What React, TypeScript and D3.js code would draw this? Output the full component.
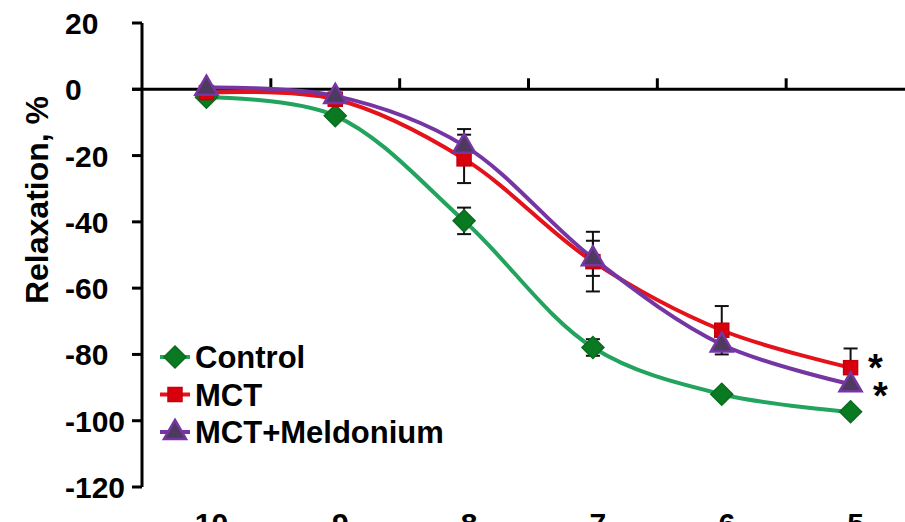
import React, { useEffect, useRef } from "react";
import * as d3 from "d3";

const categories = ["-10", "-9", "-8", "-7", "-6", "-5"];
const yTicks = [20, 0, -20, -40, -60, -80, -100, -120];

const controlValues = [-2.4, -8, -39.7, -77.9, -92, -97.3];
const controlErrors = [0, 0, 4, 2.5, 0, 0];
const mctValues = [-1, -3, -21, -52, -72.7, -84];
const mctErrors = [0, 0, 7.3, 9, 7.3, 5.8];
const meldValues = [0.5, -2, -17, -51, -77, -89];
const meldErrors = [0, 0, 5, 5.3, 0, 0];

const seriesNames = ["Control", "MCT", "MCT+Meldonium"];

const W = 905;
const H = 522;

const App = () => {
  const svgRef = useRef<SVGSVGElement>(null);

  useEffect(() => {
    const svg = d3.select(svgRef.current);
    svg.selectAll("*").remove();

    const x = d3.scaleBand().domain(categories).range([142, 915]);
    const y = d3.scaleLinear().domain([-120, 20]).range([487, 23]);
    const font = "'Liberation Sans', Arial, sans-serif";

    const series = [
      { name: seriesNames[0], values: controlValues, errors: controlErrors, line: "#22a35e", fill: "#0a7a22", stroke: "#0b6b1f", shape: "diamond" },
      { name: seriesNames[1], values: mctValues, errors: mctErrors, line: "#e3121b", fill: "#d8000c", stroke: "#c4000a", shape: "square" },
      { name: seriesNames[2], values: meldValues, errors: meldErrors, line: "#7536a3", fill: "#4d3a5e", stroke: "#7536a3", shape: "triangle" },
    ];

    const cx = (c: string) => (x(c) as number) + x.bandwidth() / 2;

    const drawMarker = (g: any, shape: string, px: number, py: number, fill: string, stroke: string) => {
      if (shape === "diamond") {
        const r = 11;
        g.append("path")
          .attr("d", `M${px},${py - r}L${px + r},${py}L${px},${py + r}L${px - r},${py}Z`)
          .attr("fill", fill).attr("stroke", stroke).attr("stroke-width", 1.5);
      } else if (shape === "square") {
        g.append("rect")
          .attr("x", px - 7).attr("y", py - 7).attr("width", 14).attr("height", 14)
          .attr("fill", fill).attr("stroke", stroke).attr("stroke-width", 1.5);
      } else {
        g.append("path")
          .attr("d", `M${px},${py - 12}L${px + 11},${py + 7}L${px - 11},${py + 7}Z`)
          .attr("fill", fill).attr("stroke", stroke).attr("stroke-width", 2.5);
      }
    };

    // y axis
    svg.append("line").attr("x1", 142).attr("x2", 142).attr("y1", y(20)).attr("y2", y(-120))
      .attr("stroke", "#000").attr("stroke-width", 3);
    yTicks.forEach((t) => {
      svg.append("line").attr("x1", 132).attr("x2", 142).attr("y1", y(t)).attr("y2", y(t))
        .attr("stroke", "#000").attr("stroke-width", 3);
      svg.append("text").attr("x", 65).attr("y", y(t) + 11)
        .attr("font-family", font).attr("font-weight", "bold").attr("font-size", 30)
        .text(t);
    });

    // x axis at 0, category labels sit below the bottom edge like the original
    svg.append("line").attr("x1", 132).attr("x2", W).attr("y1", y(0)).attr("y2", y(0))
      .attr("stroke", "#000").attr("stroke-width", 3);
    categories.forEach((c) => {
      const bx = (x(c) as number) + x.bandwidth();
      svg.append("line").attr("x1", bx).attr("x2", bx).attr("y1", y(0)).attr("y2", y(0) - 11)
        .attr("stroke", "#000").attr("stroke-width", 3);
      svg.append("text").attr("x", cx(c)).attr("y", 534).attr("text-anchor", "middle")
        .attr("font-family", font).attr("font-weight", "bold").attr("font-size", 30)
        .text(c);
    });

    // y label
    svg.append("text").attr("transform", "translate(48,200) rotate(-90)")
      .attr("text-anchor", "middle")
      .attr("font-family", font).attr("font-weight", "bold").attr("font-size", 32)
      .text("Relaxation, %");

    const line = d3.line<number>()
      .x((_, i) => cx(categories[i]))
      .y((d) => y(d))
      .curve(d3.curveCatmullRom.alpha(0.5));

    series.forEach((s) => {
      svg.append("path").attr("d", line(s.values) as string)
        .attr("fill", "none").attr("stroke", s.line).attr("stroke-width", 4);
    });

    // error bars
    series.forEach((s) => {
      s.values.forEach((v, i) => {
        const e = s.errors[i];
        if (!e) return;
        const px = cx(categories[i]);
        const g = svg.append("g").attr("stroke", "#111").attr("stroke-width", 2);
        g.append("line").attr("x1", px).attr("x2", px).attr("y1", y(v + e)).attr("y2", y(v - e));
        g.append("line").attr("x1", px - 7).attr("x2", px + 7).attr("y1", y(v + e)).attr("y2", y(v + e));
        g.append("line").attr("x1", px - 7).attr("x2", px + 7).attr("y1", y(v - e)).attr("y2", y(v - e));
      });
    });

    // markers
    series.forEach((s) => {
      const g = svg.append("g");
      s.values.forEach((v, i) => drawMarker(g, s.shape, cx(categories[i]), y(v), s.fill, s.stroke));
    });

    // asterisks
    svg.append("text").attr("x", 868).attr("y", 381)
      .attr("font-family", font).attr("font-weight", "bold").attr("font-size", 38).text("*");
    svg.append("text").attr("x", 873).attr("y", 409)
      .attr("font-family", font).attr("font-weight", "bold").attr("font-size", 38).text("*");

    // legend
    series.forEach((s, i) => {
      const ly = 357 + i * 37.5;
      const g = svg.append("g");
      g.append("line").attr("x1", 160).attr("x2", 190).attr("y1", ly).attr("y2", ly)
        .attr("stroke", s.line).attr("stroke-width", 4);
      drawMarker(g, s.shape, 175, ly, s.fill, s.stroke);
      g.append("text").attr("x", 195).attr("y", ly + 11)
        .attr("font-family", font).attr("font-weight", "bold").attr("font-size", 31)
        .text(s.name);
    });
  }, []);

  return (
    <svg ref={svgRef} width={W} height={H}
      style={{ position: "absolute", left: 0, top: 0, background: "#fff" }} />
  );
};

export default App;
